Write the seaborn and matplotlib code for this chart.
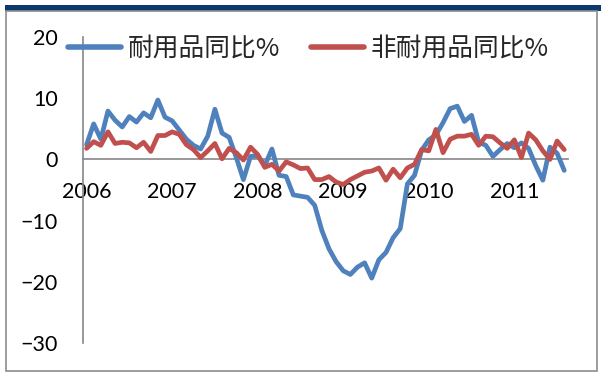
import numpy as np
import pandas as pd
import matplotlib
matplotlib.use("Agg")
import matplotlib.pyplot as plt
import seaborn as sns
from matplotlib.lines import Line2D
from matplotlib.patches import Rectangle

# Monthly year-on-year growth, Jan 2006 - Aug 2011
months = pd.period_range("2006-01", "2011-08", freq="M").astype(str)
durable = [
    2.4, 5.8, 3.3, 7.9, 6.4, 5.3, 7.0, 6.1, 7.6, 6.8, 9.7, 6.9,
    6.3, 4.8, 3.3, 2.3, 1.7, 3.8, 8.2, 4.3, 3.6, 0.3, -3.3, 0.5,
    0.6, -1.0, 1.7, -2.6, -2.8, -5.8, -6.0, -6.2, -7.5, -11.6, -14.6, -16.7,
    -18.2, -18.8, -17.6, -16.9, -19.4, -16.4, -15.2, -12.8, -11.3, -4.0, -2.6, 1.5,
    3.2, 4.0, 6.0, 8.3, 8.7, 6.2, 7.2, 2.8, 2.3, 0.5, 1.6, 2.6,
    1.9, 2.7, 1.8, -1.0, -3.4, 2.0, 1.0, -1.8,
]
nondurable = [
    1.8, 2.9, 2.3, 4.5, 2.6, 2.8, 2.7, 1.9, 2.8, 1.3, 3.9, 3.9,
    4.5, 4.1, 2.4, 1.6, 0.3, 1.4, 2.6, 0.1, 1.8, 1.1, -0.1, 2.0,
    0.8, -1.3, -0.8, -1.9, -0.4, -0.9, -1.5, -1.4, -3.3, -3.3, -2.8, -3.7,
    -4.1, -3.3, -2.7, -2.1, -1.9, -1.4, -3.4, -1.6, -3.0, -1.4, -0.8, 1.6,
    1.4, 4.9, 1.1, 3.3, 3.8, 3.8, 4.1, 2.3, 3.8, 3.7, 2.7, 1.8,
    3.2, 0.3, 4.3, 3.2, 1.4, 0.0, 3.0, 1.6,
]
series_names = ["耐用品同比%", "非耐用品同比%"]
year_labels = ["2006", "2007", "2008", "2009", "2010", "2011"]
y_ticks = [-30, -20, -10, 0, 10, 20]

colors = ["#4F81BD", "#C0504D"]
gray = "#868686"

n = len(months)
df = pd.DataFrame({
    "month": np.tile(np.arange(n), 2),
    "value": durable + nondurable,
    "series": np.repeat(series_names, n),
})

sns.set_style("white")
plt.rcParams["font.family"] = ["Lato", "Noto Sans CJK SC", "DejaVu Sans"]

W, H = 601, 374
fig = plt.figure(figsize=(W / 100, H / 100), dpi=100)

# outer frame and top band
fig.add_artist(Rectangle((5 / W, 1 - 11 / H), 1 - 5 / W, 6 / H,
                         transform=fig.transFigure, facecolor="#0B3A6E",
                         edgecolor="none", zorder=0))
fig.add_artist(Rectangle((6 / W, 3 / H), 591 / W, 1 - 14 / H,
                         transform=fig.transFigure, facecolor="none",
                         edgecolor="#8C8C8C", linewidth=1.2, zorder=0))

ax = fig.add_axes([83 / W, 1 - 343 / H, (567.8 - 83) / W, (343 - 37) / H])
ax.patch.set_alpha(0)

sns.lineplot(data=df, x="month", y="value", hue="series",
             palette=colors, linewidth=3.4, legend=False, ax=ax, zorder=3)

ax.set_xlim(-0.5, n - 0.5)
ax.set_ylim(-30, 20)
ax.set_yticks(y_ticks)
ax.set_xticks(np.arange(0, n, 12))
ax.set_xticklabels(year_labels)
ax.set_xticks(np.arange(11.5, n, 12), minor=True)
ax.set_xlabel("")
ax.set_ylabel("")

ax.spines["bottom"].set_position(("data", 0))
for side in ["top", "right"]:
    ax.spines[side].set_visible(False)
for side in ["left", "bottom"]:
    ax.spines[side].set_color(gray)
    ax.spines[side].set_linewidth(1.2)

ax.tick_params(axis="x", which="major", length=0, pad=16, labelsize=15.5,
               labelcolor="black")
ax.tick_params(axis="x", which="minor", length=6, width=1.2, color=gray,
               direction="out")
ax.tick_params(axis="y", length=5, width=1.2, color=gray, direction="out",
               pad=13, labelsize=15.5, labelcolor="black")

handles = [Line2D([0], [0], color=c, linewidth=4.0, solid_capstyle="round")
           for c in colors]
fig.legend(handles, series_names, loc="center left",
           bbox_to_anchor=(68 / W, 1 - 49 / H), bbox_transform=fig.transFigure,
           ncol=2, frameon=False, borderpad=0, borderaxespad=0,
           handlelength=2.05, handletextpad=0.28, columnspacing=1.2,
           prop={"family": ["Noto Sans CJK SC", "DejaVu Sans"], "size": 18.5})

fig.savefig("out.png", dpi=100)
